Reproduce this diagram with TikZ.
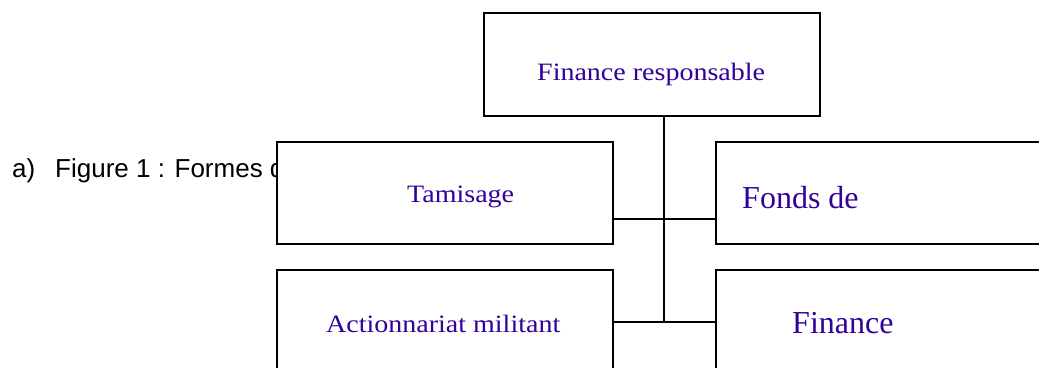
\documentclass[tikz,border=0pt]{standalone}
\usepackage{fontspec}
\setmainfont{Liberation Serif}
\newfontfamily\capfont{Liberation Sans}
\newfontfamily\bmfont[FakeStretch=1.12]{Liberation Serif}
\newfontfamily\rtfont{Liberation Serif}
\definecolor{txtblue}{HTML}{330099}
\begin{document}
\begin{tikzpicture}[x=1pt,y=-1pt,
  boxst/.style={draw=black,fill=white,line width=1.6pt,rectangle,inner sep=0pt},
  smalltxt/.style={anchor=base west,inner sep=0pt,text=txtblue,font=\bmfont\fontsize{25}{28}\selectfont},
  bigtxt/.style={anchor=base west,inner sep=0pt,text=txtblue,font=\rtfont\fontsize{32}{36}\selectfont},
  captxt/.style={anchor=base west,inner sep=0pt,text=black,font=\capfont\fontsize{26}{30}\selectfont},
  link/.style={draw=black,line width=1.6pt}]
\useasboundingbox (0,0) rectangle (1039,367);
\clip (0,0) rectangle (1039,367);
% caption
\node[captxt] (capa) at (12,177) {a)};
\node[captxt] (capb) at (55,177) {Figure 1 : Formes d};
% boxes
\node[boxst,minimum width=336pt,minimum height=103pt] (top) at (652,64.5) {};
\node[boxst,minimum width=336pt,minimum height=102pt] (tam) at (445,193) {};
\node[boxst,minimum width=344pt,minimum height=102pt] (fonds) at (888,193) {};
\node[boxst,minimum width=336pt,minimum height=120pt] (act) at (445,330) {};
\node[boxst,minimum width=344pt,minimum height=120pt] (fin) at (888,330) {};
% texts
\node[smalltxt] (t1) at (537,80) {Finance responsable};
\node[smalltxt] (t2) at (407,202) {Tamisage};
\node[bigtxt] (t3) at (742,208) {Fonds de};
\node[smalltxt] (t4) at (326,332) {Actionnariat militant};
\node[bigtxt] (t5) at (792,333) {Finance};
% connectors
\coordinate (j1) at (664,219);
\coordinate (j2) at (664,322);
\draw[link] (top.south -| j1) -- (j2);
\draw[link] (tam.east |- j1) -- (fonds.west |- j1);
\draw[link] (act.east |- j2) -- (fin.west |- j2);
\end{tikzpicture}
\end{document}
